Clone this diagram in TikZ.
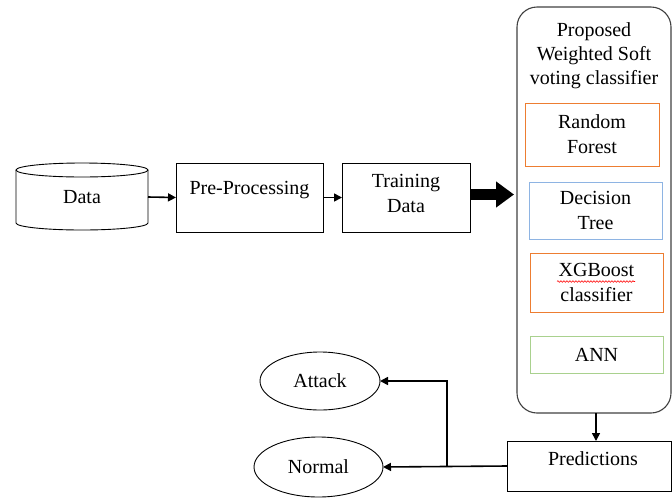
\documentclass[tikz,border=0pt]{standalone}
\usepackage{fontspec}
\setmainfont{Liberation Serif}
\usetikzlibrary{arrows.meta,shapes.geometric,decorations.pathmorphing}
\definecolor{orng}{HTML}{ED7D31}
\definecolor{blu}{HTML}{8EB4E3}
\definecolor{grn}{HTML}{A9D18E}
\definecolor{frame}{HTML}{404040}
\begin{document}
\begin{tikzpicture}[x=1pt,y=1pt,
  every node/.style={font=\fontsize{20}{25}\selectfont, inner sep=0pt, outer sep=0pt},
  box/.style={draw=black, line width=0.9pt, rectangle},
  inbox/.style={draw=#1, line width=1pt, rectangle},
  oval/.style={draw=black, line width=0.9pt, ellipse},
  conn/.style={line width=1.6pt, -{Triangle[length=8pt,width=8pt]}},
  plain/.style={line width=1.6pt}
]
\useasboundingbox (0,0) rectangle (672,-499);

% Data cylinder
\node (data) [minimum width=132, minimum height=60] at (82,-197) {Data};
\draw[line width=0.9pt] (82,-170) ellipse [x radius=66, y radius=7];
\draw[line width=0.9pt] (16,-170) -- (16,-223) arc[start angle=180, end angle=360, x radius=66, y radius=7] -- (148,-170);

% Pre-processing
\node (pre) [box, minimum width=147, minimum height=69] at (249.5,-197.5) {};
\node (pretxt) at ([yshift=7]pre.center) {Pre-Processing};

% Training data
\node (train) [box, minimum width=128, minimum height=69, align=center] at (406,-197.5) {};
\node (traintxt) [align=center] at ([yshift=4]train.center) {Training\\Data};

% Classifier container
\node (clf) [draw=frame, line width=1.1pt, rounded corners=20pt, minimum width=154, minimum height=406] at (594,-210) {};
\node (clftxt) [align=center, font=\fontsize{20}{24}\selectfont] at (594,-56) {Proposed\\Weighted Soft\\voting classifier};

\node (rf) [inbox=orng, minimum width=134, minimum height=63] at (592,-134.5) {};
\node (rftxt) [align=center] at (rf.center) {Random\\Forest};

\node (dt) [inbox=blu, minimum width=133, minimum height=57] at (595.5,-210.5) {};
\node (dttxt) [align=center] at (dt.center) {Decision\\Tree};

\node (xgb) [inbox=orng, minimum width=133, minimum height=59] at (596.5,-282.5) {};
\node (xgbtxt) [align=center] at (xgb.center) {XGBoost\\classifier};
\draw[red, line width=0.6pt, decorate, decoration={snake, amplitude=0.8pt, segment length=3pt}] (557,-281.5) -- (635,-281.5);

\node (ann) [inbox=grn, minimum width=133, minimum height=37] at (596.5,-354.5) {ANN};

% Predictions
\node (pred) [box, minimum width=164, minimum height=50] at (589,-466) {};
\node (predtxt) at ([xshift=4,yshift=7]pred.center) {Predictions};

% Outputs
\node (attack) [oval, minimum width=120, minimum height=58] at (320,-381) {Attack};
\node (normal) [oval, minimum width=129, minimum height=60] at (318.5,-467) {Normal};

% Connectors
\draw[conn] (data.east) -- (pre.west);
\draw[conn] (pre.east) -- (train.west);
\draw[line width=11pt, -{Triangle[length=18pt,width=25pt]}] ([yshift=3]train.east) -- ([xshift=-3,yshift=3]train.east -| clf.west);
\draw[conn] (clf.south -| 596,0) -- (596,-441);
\coordinate (junc) at (447,-467);
\draw[conn] (pred.west) -- (normal.east);
\draw[conn] (junc) |- (attack.east);
\end{tikzpicture}
\end{document}
